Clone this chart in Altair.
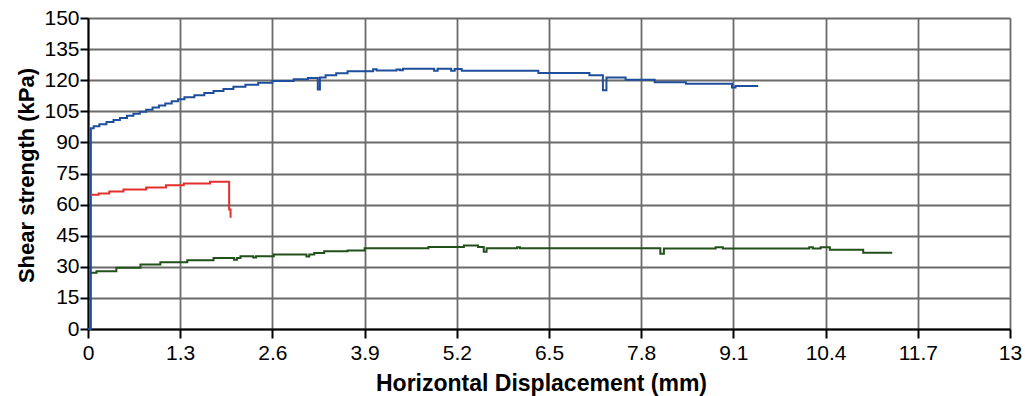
import altair as alt
import pandas as pd

# Horizontal displacement (mm) / shear strength (kPa)
blue_x = [0, 0.04, 0.08, 0.16, 0.26, 0.36, 0.45, 0.55, 0.64, 0.73, 0.82, 0.91, 1.0, 1.09,
          1.18, 1.27, 1.36, 1.5, 1.64, 1.77, 1.91, 2.05, 2.22, 2.4, 2.6, 2.9, 3.1, 3.24,
          3.27, 3.35, 3.5, 3.66, 4.02, 4.07, 4.35, 4.4, 4.44, 4.88, 4.93, 5.12, 5.17, 5.27,
          6.35, 7.07, 7.26, 7.31, 7.58, 7.99, 8.43, 9.08, 9.13, 9.45]
blue_y = [0, 96.8, 97.8, 98.8, 99.8, 100.8, 101.8, 102.8, 103.8, 104.8, 105.8, 106.8, 107.8, 108.8,
          109.8, 110.8, 111.8, 112.8, 113.8, 114.8, 115.8, 116.8, 117.8, 118.8, 119.6, 120.4, 121.1, 115.5,
          121.3, 122.4, 123.4, 124.3, 125.3, 124.7, 125.2, 124.8, 125.5, 124.5, 125.5, 124.6, 125.4, 124.6,
          123.5, 122.4, 115.2, 121.3, 120.2, 119.0, 118.3, 116.5, 117.2, 117.2]

red_x = [0.04, 0.15, 0.3, 0.5, 0.82, 1.1, 1.35, 1.72, 1.99, 2.01, 2.01]
red_y = [64.7, 65.3, 66.3, 67.3, 68.3, 69.3, 70.2, 71.0, 57.6, 53.7, 53.7]

green_x = [0.04, 0.12, 0.4, 0.74, 1.02, 1.4, 1.77, 2.06, 2.1, 2.15, 2.33, 2.37, 2.62, 3.08,
           3.12, 3.19, 3.33, 3.66, 3.9, 4.8, 5.3, 5.5, 5.58, 5.62, 6.05, 6.09, 8.07, 8.12,
           8.85, 8.95, 10.17, 10.22, 10.33, 10.46, 10.93, 11.34]
green_y = [27.1, 27.9, 29.5, 31.1, 32.2, 33.2, 34.3, 33.4, 34.3, 35.1, 34.5, 35.1, 35.9, 35.0,
           35.9, 36.7, 37.5, 37.9, 39.0, 39.6, 40.3, 39.6, 37.3, 39.0, 39.4, 39.0, 36.3, 38.8,
           39.4, 38.8, 39.4, 38.8, 39.4, 38.2, 36.8, 36.8]

series_names = ["blue", "red", "green"]
series_colors = ["#1f4e9c", "#e3302c", "#22501a"]
x_ticks = [0, 1.3, 2.6, 3.9, 5.2, 6.5, 7.8, 9.1, 10.4, 11.7, 13]
y_ticks = [0, 15, 30, 45, 60, 75, 90, 105, 120, 135, 150]

rows = []
for name, xs, ys in zip(series_names, [blue_x, red_x, green_x], [blue_y, red_y, green_y]):
    for i, (xv, yv) in enumerate(zip(xs, ys)):
        rows.append({"series": name, "x": xv, "y": yv, "i": i})
df = pd.DataFrame(rows)

FONT = "Liberation Sans"

chart = alt.Chart(df).mark_line(interpolate="step-after", strokeWidth=2).encode(
    x=alt.X("x:Q",
            scale=alt.Scale(domain=[0, 13], nice=False, zero=False),
            axis=alt.Axis(values=x_ticks, format=".1~f",
                          title="Horizontal Displacement (mm)",
                          titleFontSize=23, titleFontWeight="bold", titleFont=FONT,
                          titleColor="black", titleX=453, titleY=61,
                          titleBaseline="alphabetic", titleAlign="center",
                          labelFontSize=21, labelFont=FONT, labelColor="black",
                          labelPadding=4, tickSize=9, tickWidth=2, tickColor="black",
                          domainColor="black", domainWidth=2,
                          gridColor="#6a6a6a", gridWidth=1.8, labelFlush=False)),
    y=alt.Y("y:Q",
            scale=alt.Scale(domain=[0, 150], nice=False),
            axis=alt.Axis(values=y_ticks, title="Shear strength (kPa)",
                          titleFontSize=22, titleFontWeight="bold", titleFont=FONT,
                          titleColor="black", titleX=-50, titleY=157,
                          titleAngle=270, titleBaseline="bottom", titleAlign="center",
                          labelFontSize=21, labelFont=FONT, labelColor="black",
                          labelPadding=1, tickSize=8, tickWidth=2, tickColor="black",
                          domainColor="black", domainWidth=2,
                          gridColor="#6a6a6a", gridWidth=1.8, labelFlush=False)),
    color=alt.Color("series:N", scale=alt.Scale(domain=series_names, range=series_colors),
                    legend=None),
    order="i:Q",
).properties(
    width=922, height=311,
    autosize=alt.AutoSizeParams(type="none"),
    padding={"left": 88, "top": 18, "right": 15, "bottom": 67},
).configure_view(stroke="black", strokeWidth=2).configure(background="white")

chart.save("out.html", embed_options={"renderer": "svg", "actions": False})
